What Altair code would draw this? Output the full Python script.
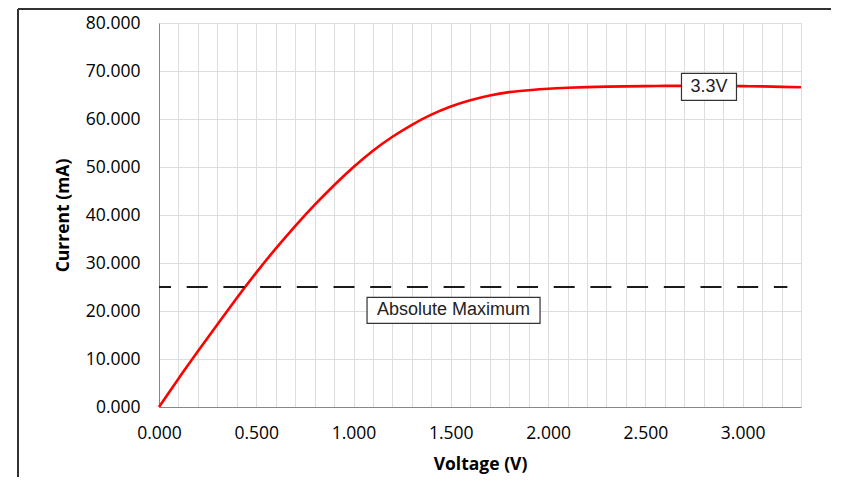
import altair as alt
import pandas as pd

# ---- data ----
voltage = [0.0, 0.1, 0.2, 0.3, 0.4, 0.5, 0.6, 0.7, 0.8, 0.9, 1.0,
           1.1, 1.2, 1.3, 1.4, 1.5, 1.6, 1.7, 1.8, 1.9, 2.0,
           2.1, 2.2, 2.3, 2.4, 2.5, 2.6, 2.7, 2.8, 2.9, 3.0,
           3.1, 3.2, 3.3]
current = [0.0, 5.9, 11.6, 17.2, 22.7, 28.0, 33.0, 37.7, 42.1, 46.2, 50.0,
           53.4, 56.3, 58.8, 60.9, 62.6, 63.9, 64.9, 65.6, 66.0, 66.3,
           66.5, 66.65, 66.75, 66.8, 66.85, 66.9, 66.9, 66.9, 66.9, 66.85,
           66.8, 66.7, 66.6]

limit_v = [0.0, 3.23]
limit_i = [25.0, 25.0]

label_text = ["3.3V", "Absolute Maximum"]
label_v = [2.827, 1.514]
label_i = [66.7, 20.15]

x_grid = [0.0, 0.1, 0.2, 0.3, 0.4, 0.5, 0.6, 0.7, 0.8, 0.9, 1.0,
          1.1, 1.2, 1.3, 1.4, 1.5, 1.6, 1.7, 1.8, 1.9, 2.0,
          2.1, 2.2, 2.3, 2.4, 2.5, 2.6, 2.7, 2.8, 2.9, 3.0,
          3.1, 3.2, 3.3]
y_ticks = [0, 10, 20, 30, 40, 50, 60, 70, 80]

curve_df = pd.DataFrame({"v": voltage, "i": current})
limit_df = pd.DataFrame({"v": limit_v, "i": limit_i})
lab_df = pd.DataFrame({"t": label_text, "v": label_v, "i": label_i})

W, H = 642, 384
xs = alt.Scale(domain=[0, 3.3], nice=False, zero=True)
ys = alt.Scale(domain=[0, 80], nice=False)

FONT = "Open Sans"

x_axis = alt.Axis(
    values=x_grid,
    title="Voltage (V)",
    labelExpr="abs(datum.value*2 - round(datum.value*2)) < 0.001 ? format(datum.value, '.3f') : ''",
    ticks=False,
    labelPadding=17,
    labelFlush=False,
    labelFont=FONT, labelFontSize=17.5, labelColor="#000000",
    titleFont=FONT, titleFontSize=17.5, titleFontWeight="bold", titleColor="#000000",
    titleY=57, titleBaseline="middle",
    labelOverlap=False,
)
y_axis = alt.Axis(
    values=y_ticks,
    title="Current (mA)",
    format=".3f",
    ticks=False,
    labelPadding=19,
    labelFlush=False,
    labelFont=FONT, labelFontSize=17.5, labelColor="#000000",
    titleFont=FONT, titleFontSize=17.5, titleFontWeight="bold", titleColor="#000000",
    titleX=-96, titleY=H / 2, titleBaseline="middle",
)

X = alt.X("v:Q", scale=xs, axis=x_axis)
Y = alt.Y("i:Q", scale=ys, axis=y_axis)

curve = alt.Chart(curve_df).mark_line(
    color="#ff0000", strokeWidth=2.6, interpolate="natural"
).encode(x=X, y=Y)

limit = alt.Chart(limit_df).mark_line(
    color="#1a1a1a", strokeWidth=2.2, strokeDash=[21, 15.7], strokeDashOffset=9
).encode(x=X, y=Y)

box1 = alt.Chart(lab_df.iloc[[0]]).mark_rect(
    width=55, height=27, fill="white", stroke="#333333", strokeWidth=1.2
).encode(x=X, y=Y)
box2 = alt.Chart(lab_df.iloc[[1]]).mark_rect(
    width=173, height=26, fill="white", stroke="#333333", strokeWidth=1.2
).encode(x=X, y=Y)
texts = alt.Chart(lab_df).mark_text(
    font="Liberation Sans", fontSize=18, color="#222222", baseline="middle", align="center"
).encode(x=X, y=Y, text="t:N")

frame_left = alt.Chart(curve_df).mark_rule(color="#333333", strokeWidth=1.5).encode(
    x=alt.value(-141), y=alt.value(-14), y2=alt.value(455)
)
frame_top = alt.Chart(curve_df).mark_rule(color="#333333", strokeWidth=1.5).encode(
    x=alt.value(-141), x2=alt.value(672), y=alt.value(-14)
)

chart = alt.layer(curve, limit, box1, box2, texts, frame_left, frame_top).properties(
    width=W, height=H,
    autosize=alt.AutoSizeParams(type="none"),
    padding={"left": 151, "top": 15, "right": 30, "bottom": 70},
).configure_view(
    stroke=None
).configure_axis(
    gridColor="#bdbdbd", gridWidth=1.5, gridOpacity=1,
    domainColor="#868686", domainWidth=1.8,
).configure(background="white")

chart.save("out.html", embed_options={"renderer": "svg", "actions": False})
